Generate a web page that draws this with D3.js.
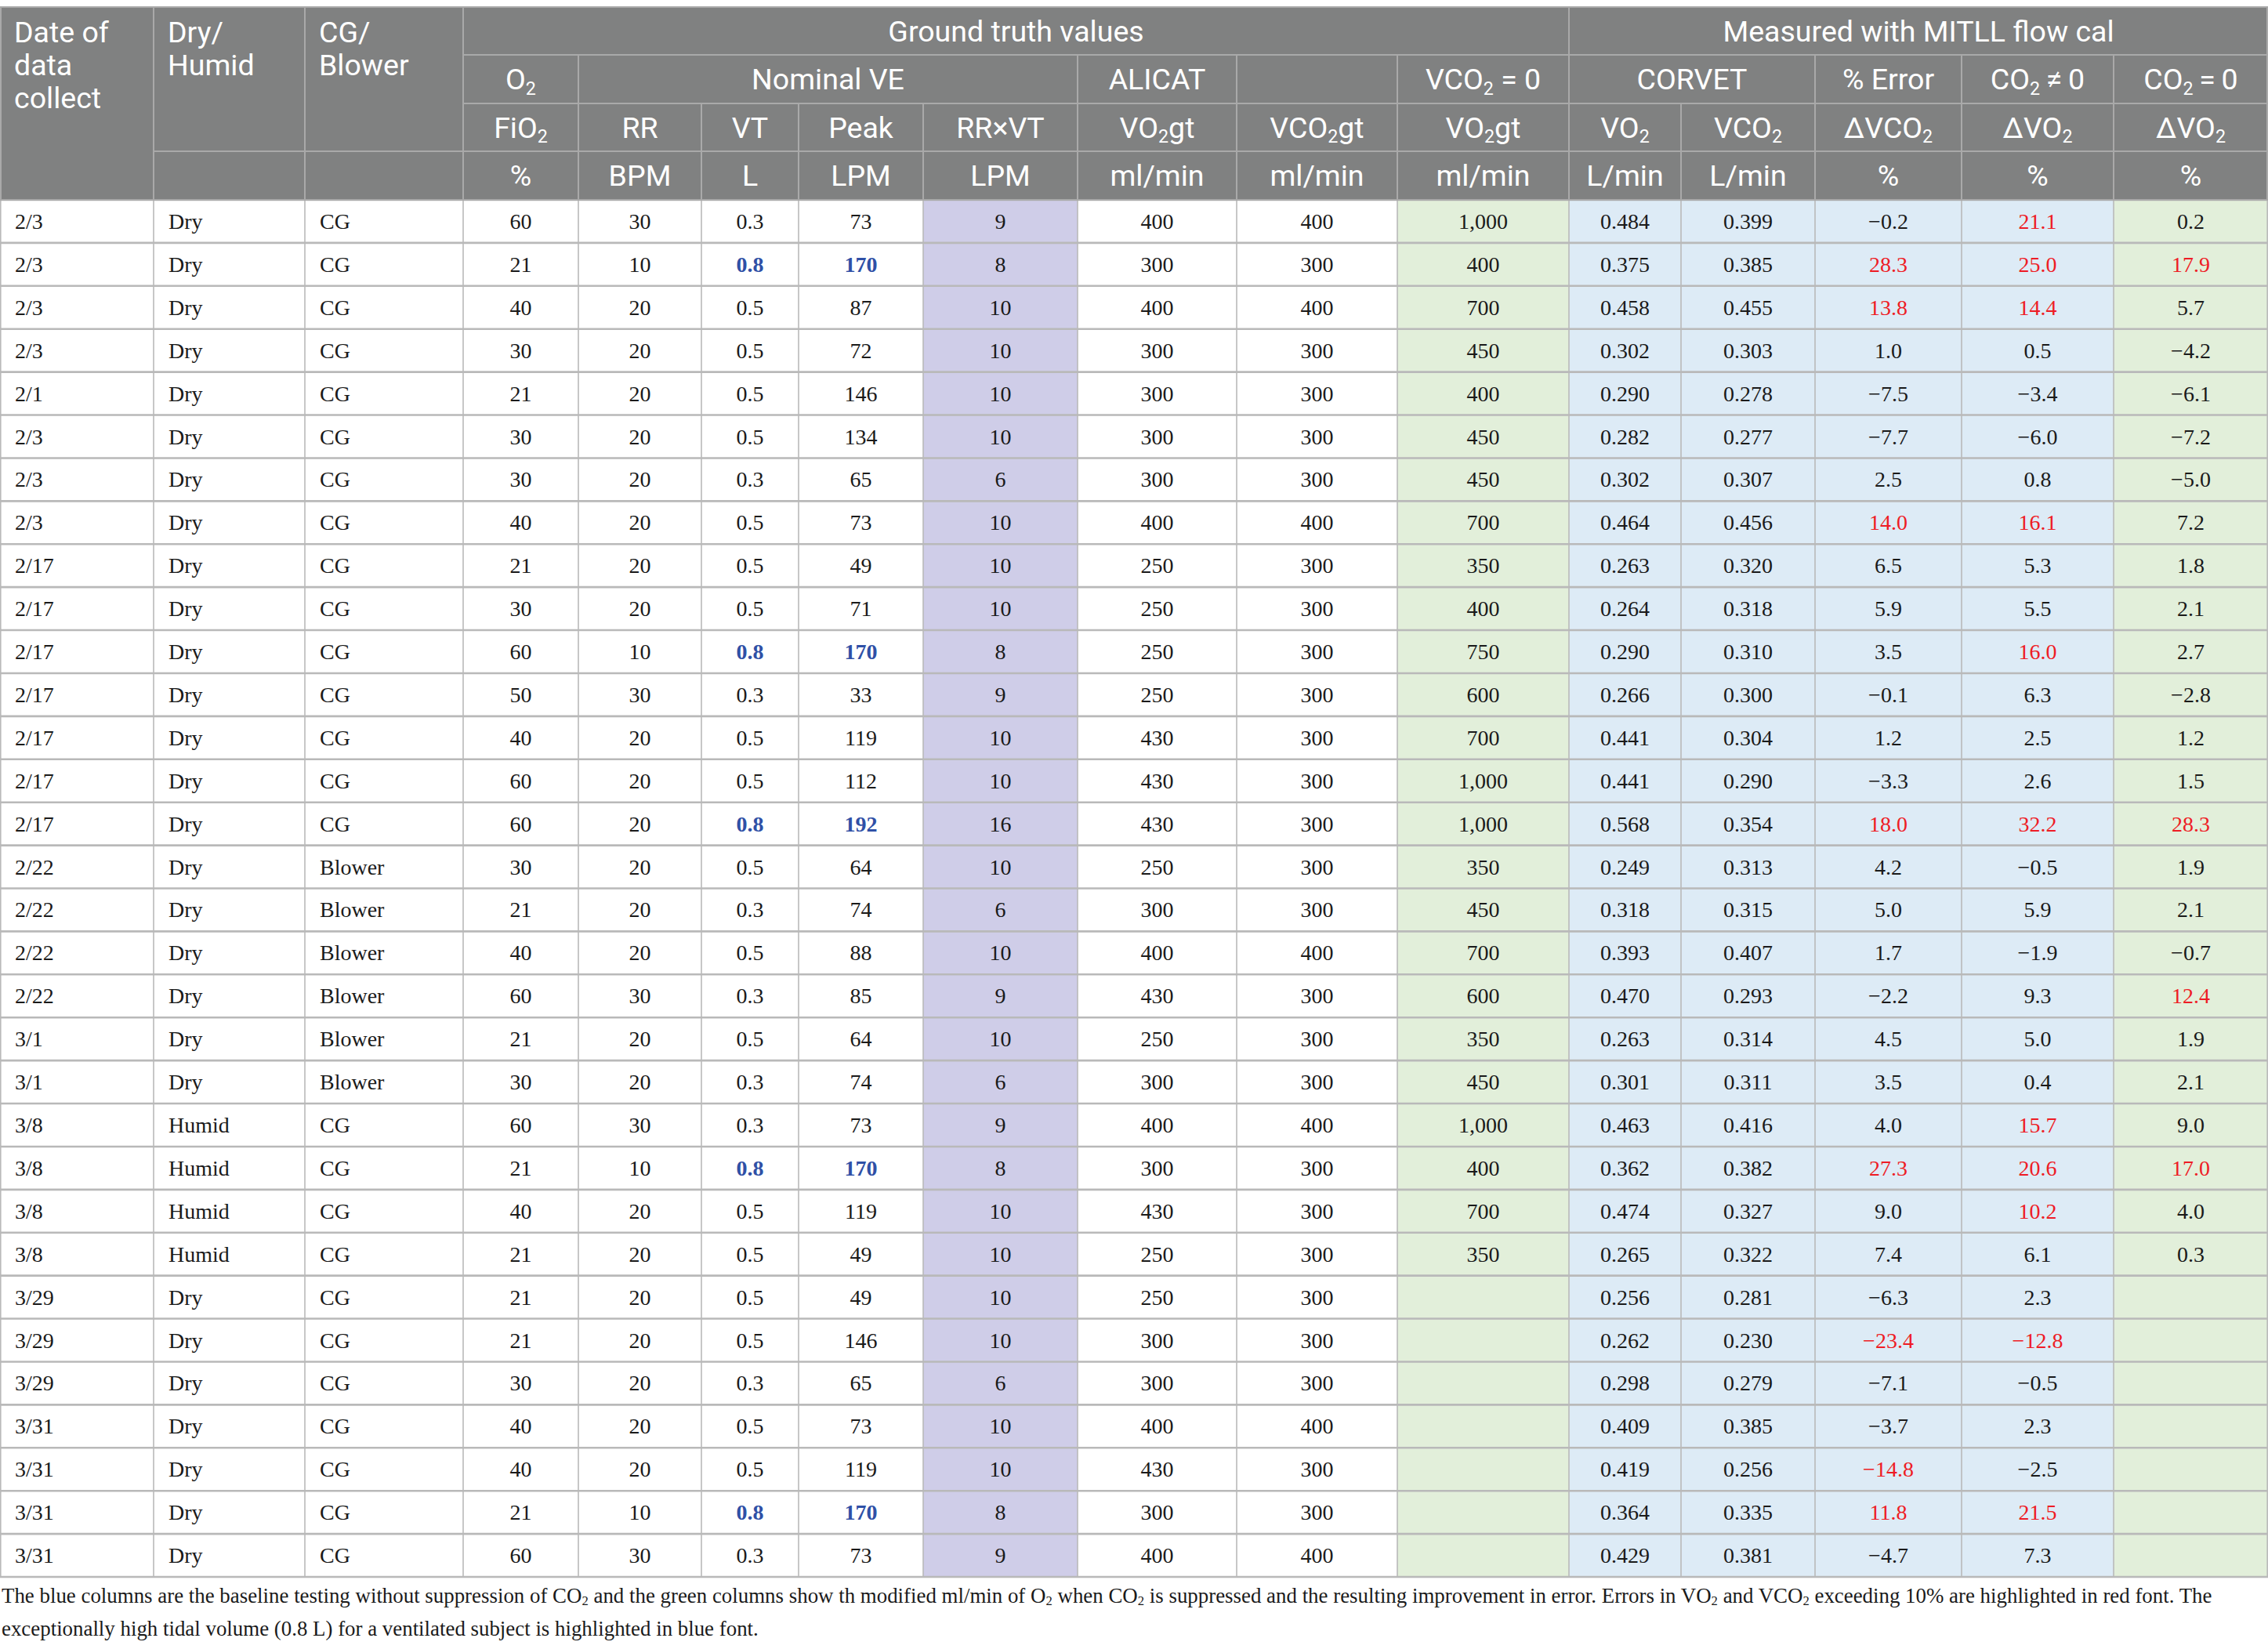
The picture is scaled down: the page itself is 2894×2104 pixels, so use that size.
<!DOCTYPE html>
<html><head><meta charset="utf-8">
<script src="https://cdn.jsdelivr.net/npm/d3@7"></script>
<style>html,body{margin:0;padding:0;background:#fff;} svg{display:block}</style>
</head><body><svg id="c" width="2894" height="2104"></svg>
<script>
// ---------------- DATA ----------------
const dates = ["2/3","2/3","2/3","2/3","2/1","2/3","2/3","2/3","2/17","2/17","2/17","2/17","2/17","2/17","2/17","2/22","2/22","2/22","2/22","3/1","3/1","3/8","3/8","3/8","3/8","3/29","3/29","3/29","3/31","3/31","3/31","3/31"];
const dryHumid = ["Dry","Dry","Dry","Dry","Dry","Dry","Dry","Dry","Dry","Dry","Dry","Dry","Dry","Dry","Dry","Dry","Dry","Dry","Dry","Dry","Dry","Humid","Humid","Humid","Humid","Dry","Dry","Dry","Dry","Dry","Dry","Dry"];
const cgBlower = ["CG","CG","CG","CG","CG","CG","CG","CG","CG","CG","CG","CG","CG","CG","CG","Blower","Blower","Blower","Blower","Blower","Blower","CG","CG","CG","CG","CG","CG","CG","CG","CG","CG","CG"];
const fio2 = [60,21,40,30,21,30,30,40,21,30,60,50,40,60,60,30,21,40,60,21,30,60,21,40,21,21,21,30,40,40,21,60];
const rr = [30,10,20,20,20,20,20,20,20,20,10,30,20,20,20,20,20,20,30,20,20,30,10,20,20,20,20,20,20,20,10,30];
const vt = [0.3,0.8,0.5,0.5,0.5,0.5,0.3,0.5,0.5,0.5,0.8,0.3,0.5,0.5,0.8,0.5,0.3,0.5,0.3,0.5,0.3,0.3,0.8,0.5,0.5,0.5,0.5,0.3,0.5,0.5,0.8,0.3];
const peak = [73,170,87,72,146,134,65,73,49,71,170,33,119,112,192,64,74,88,85,64,74,73,170,119,49,49,146,65,73,119,170,73];
const rrTimesVt = [9,8,10,10,10,10,6,10,10,10,8,9,10,10,16,10,6,10,9,10,6,9,8,10,10,10,10,6,10,10,8,9];
const alicatVO2gt = [400,300,400,300,300,300,300,400,250,250,250,250,430,430,430,250,300,400,430,250,300,400,300,430,250,250,300,300,400,430,300,400];
const vco2gt = [400,300,400,300,300,300,300,400,300,300,300,300,300,300,300,300,300,400,300,300,300,400,300,300,300,300,300,300,400,300,300,400];
const vo2gtZero = [1000,400,700,450,400,450,450,700,350,400,750,600,700,1000,1000,350,450,700,600,350,450,1000,400,700,350,null,null,null,null,null,null,null];
const corvetVO2 = [0.484,0.375,0.458,0.302,0.290,0.282,0.302,0.464,0.263,0.264,0.290,0.266,0.441,0.441,0.568,0.249,0.318,0.393,0.470,0.263,0.301,0.463,0.362,0.474,0.265,0.256,0.262,0.298,0.409,0.419,0.364,0.429];
const corvetVCO2 = [0.399,0.385,0.455,0.303,0.278,0.277,0.307,0.456,0.320,0.318,0.310,0.300,0.304,0.290,0.354,0.313,0.315,0.407,0.293,0.314,0.311,0.416,0.382,0.327,0.322,0.281,0.230,0.279,0.385,0.256,0.335,0.381];
const errVCO2 = [-0.2,28.3,13.8,1.0,-7.5,-7.7,2.5,14.0,6.5,5.9,3.5,-0.1,1.2,-3.3,18.0,4.2,5.0,1.7,-2.2,4.5,3.5,4.0,27.3,9.0,7.4,-6.3,-23.4,-7.1,-3.7,-14.8,11.8,-4.7];
const dVO2co2 = [21.1,25.0,14.4,0.5,-3.4,-6.0,0.8,16.1,5.3,5.5,16.0,6.3,2.5,2.6,32.2,-0.5,5.9,-1.9,9.3,5.0,0.4,15.7,20.6,10.2,6.1,2.3,-12.8,-0.5,2.3,-2.5,21.5,7.3];
const dVO2zero = [0.2,17.9,5.7,-4.2,-6.1,-7.2,-5.0,7.2,1.8,2.1,2.7,-2.8,1.2,1.5,28.3,1.9,2.1,-0.7,12.4,1.9,2.1,9.0,17.0,4.0,0.3,null,null,null,null,null,null,null];

// header labels ({x} = subscript)
const groupLabels = ["Ground truth values","Measured with MITLL flow cal"];
const level2Labels = ["O{2}","Nominal VE","ALICAT","","VCO{2} = 0","CORVET","% Error","CO{2}\u2009\u2260\u20090","CO{2}\u2009=\u20090"];
const level3Labels = ["FiO{2}","RR","VT","Peak","RR\u00d7VT","VO{2}gt","VCO{2}gt","VO{2}gt","VO{2}","VCO{2}","\u0394VCO{2}","\u0394VO{2}","\u0394VO{2}"];
const unitLabels = ["%","BPM","L","LPM","LPM","ml/min","ml/min","ml/min","L/min","L/min","%","%","%"];
const footnoteLines = [
 "The blue columns are the baseline testing without suppression of CO{2} and the green columns show th modified ml/min of O{2} when CO{2} is suppressed and the resulting improvement in error. Errors in VO{2} and VCO{2} exceeding 10% are highlighted in red font. The",
 "exceptionally high tidal volume (0.8 L) for a ventilated subject is highlighted in blue font."
];

// ---------------- LAYOUT ----------------
const W = 2894, H = 2104;
const colEdges = [0,196,389,591,738,895,1019,1178,1375,1578,1783,2002,2145,2316,2503,2697,2894];
const hdrEdges = [9,70,132,193,255];
const tableBottom = 2012;
const C = {
  header:"#808181", hdrLine:"#a9a9a9", line:"#b9b9b9",
  purple:"#cfcde8", green:"#e2efda", blue:"#ddebf6",
  text:"#1a1a1a", red:"#ee1c25", vtBlue:"#2f50a6"
};
const HFONT = "Roboto, 'Open Sans', sans-serif";
const DFONT = "'Liberation Serif', 'DejaVu Serif', serif";
const HFS = 37.5, DFS = 28, FFS = 29;

const svg = d3.select("#c");
const nRows = dates.length;
const x = d3.scaleOrdinal().domain(d3.range(colEdges.length)).range(colEdges);
const hy = d3.scaleOrdinal().domain(d3.range(hdrEdges.length)).range(hdrEdges);
const y = d3.scaleBand().domain(d3.range(nRows)).range([hdrEdges[4], tableBottom]);

function rich(textSel, str, fs, shift){
  const parts = str.split(/(\{[^}]*\})/).filter(s => s.length);
  let sub = false;
  parts.forEach(p => {
    if (p[0] === "{") {
      textSel.append("tspan").attr("font-size", fs*0.62).attr("dy", fs*shift).text(p.slice(1,-1));
      sub = true;
    } else {
      const t = textSel.append("tspan").text(p);
      if (sub) { t.attr("dy", -fs*shift); sub = false; }
    }
  });
}

const f1 = d3.format(".1f"), f3 = d3.format(".3f"), fc = d3.format(",");
const red = v => v != null && Math.abs(v) > 10 ? C.red : C.text;
const vtHi = (i) => vt[i] > 0.5;
const columns = [
  {vals: dates, fmt: d=>d, align:"left"},
  {vals: dryHumid, fmt: d=>d, align:"left"},
  {vals: cgBlower, fmt: d=>d, align:"left"},
  {vals: fio2, fmt: d=>d},
  {vals: rr, fmt: d=>d},
  {vals: vt, fmt: f1, color:(v,i)=>vtHi(i)?C.vtBlue:C.text, bold:(v,i)=>vtHi(i)},
  {vals: peak, fmt: d=>d, color:(v,i)=>vtHi(i)?C.vtBlue:C.text, bold:(v,i)=>vtHi(i)},
  {vals: rrTimesVt, fmt: d=>d, fill:C.purple},
  {vals: alicatVO2gt, fmt: d=>d},
  {vals: vco2gt, fmt: d=>d},
  {vals: vo2gtZero, fmt: fc, fill:C.green},
  {vals: corvetVO2, fmt: f3, fill:C.blue},
  {vals: corvetVCO2, fmt: f3, fill:C.blue},
  {vals: errVCO2, fmt: f1, fill:C.blue, color:red},
  {vals: dVO2co2, fmt: f1, fill:C.blue, color:red},
  {vals: dVO2zero, fmt: f1, fill:C.green, color:red}
];

// ---------------- BODY CELLS ----------------
const body = svg.append("g");
columns.forEach((col, ci) => {
  const g = body.append("g");
  g.selectAll("rect").data(col.vals).join("rect")
    .attr("x", x(ci)).attr("width", x(ci+1)-x(ci))
    .attr("y", (d,i)=>y(i)).attr("height", y.bandwidth())
    .attr("fill", col.fill || "#fff");
});
// grid lines
const gl = body.append("g");
gl.selectAll("line.h").data(d3.range(nRows+1)).join("line")
  .attr("x1",0).attr("x2",W)
  .attr("y1", i => i<nRows ? y(i) : tableBottom).attr("y2", i => i<nRows ? y(i) : tableBottom)
  .attr("stroke", C.line).attr("stroke-width", 2.6);
gl.selectAll("line.v").data(d3.range(colEdges.length)).join("line")
  .attr("x1", i=>Math.min(Math.max(x(i),0.8),W-0.8)).attr("x2", i=>Math.min(Math.max(x(i),0.8),W-0.8))
  .attr("y1", hdrEdges[4]).attr("y2", tableBottom)
  .attr("stroke", C.line).attr("stroke-width", 1.6);
// texts
columns.forEach((col, ci) => {
  const g = body.append("g").attr("font-family", DFONT).attr("font-size", DFS);
  g.selectAll("text").data(col.vals.map((v,i)=>({v,i})).filter(d=>d.v!=null)).join("text")
    .attr("x", col.align==="left" ? x(ci)+19 : (x(ci)+x(ci+1))/2)
    .attr("text-anchor", col.align==="left" ? "start" : "middle")
    .attr("y", d => y(d.i) + y.bandwidth()/2 + DFS*0.34)
    .attr("fill", d => col.color ? col.color(d.v,d.i) : C.text)
    .attr("font-weight", d => col.bold && col.bold(d.v,d.i) ? "bold" : "normal")
    .text(d => col.fmt(d.v));
});

// ---------------- HEADER ----------------
const hdrCells = [];
hdrCells.push({c0:0,c1:1,r0:0,r1:4,lines:["Date of","data","collect"],align:"left"});
hdrCells.push({c0:1,c1:2,r0:0,r1:3,lines:["Dry/","Humid"],align:"left"});
hdrCells.push({c0:2,c1:3,r0:0,r1:3,lines:["CG/","Blower"],align:"left"});
hdrCells.push({c0:1,c1:2,r0:3,r1:4,lines:[""]});
hdrCells.push({c0:2,c1:3,r0:3,r1:4,lines:[""]});
hdrCells.push({c0:3,c1:11,r0:0,r1:1,lines:[groupLabels[0]]});
hdrCells.push({c0:11,c1:16,r0:0,r1:1,lines:[groupLabels[1]]});
const l2Spans = [[3,4],[4,8],[8,9],[9,10],[10,11],[11,13],[13,14],[14,15],[15,16]];
l2Spans.forEach((s,k)=>hdrCells.push({c0:s[0],c1:s[1],r0:1,r1:2,lines:[level2Labels[k]]}));
level3Labels.forEach((t,k)=>hdrCells.push({c0:3+k,c1:4+k,r0:2,r1:3,lines:[t]}));
unitLabels.forEach((t,k)=>hdrCells.push({c0:3+k,c1:4+k,r0:3,r1:4,lines:[t]}));

const hg = svg.append("g");
hg.append("rect").attr("x",0).attr("y",hy(0)).attr("width",W).attr("height",hy(4)-hy(0)).attr("fill",C.header);
hg.selectAll("rect.cell").data(hdrCells).join("rect").attr("class","cell")
  .attr("x", d=>Math.max(x(d.c0),1)).attr("y", d=>hy(d.r0))
  .attr("width", d=>Math.min(x(d.c1),W-1)-Math.max(x(d.c0),1)).attr("height", d=>hy(d.r1)-hy(d.r0))
  .attr("fill", C.header).attr("stroke", C.hdrLine).attr("stroke-width", 2);
hdrCells.forEach(d => {
  d.lines.forEach((ln, li) => {
    if (!ln) return;
    const t = hg.append("text").attr("font-family", HFONT).attr("font-size", HFS).attr("fill", "#fff");
    if (d.align === "left") {
      t.attr("x", x(d.c0)+18).attr("y", hy(0) + 45 + li*42).attr("text-anchor","start");
    } else {
      t.attr("x", (x(d.c0)+x(d.c1))/2).attr("text-anchor","middle")
       .attr("y", (hy(d.r0)+hy(d.r1))/2 + 13);
    }
    rich(t, ln, HFS, 0.18);
  });
});

// ---------------- FOOTNOTE ----------------
const fg = svg.append("g").attr("font-family", DFONT).attr("fill", C.text);
const target = 2822;
function drawFootnote(fs){
  fg.selectAll("text").remove();
  return footnoteLines.map((ln, i) => {
    const t = fg.append("text").attr("x", 2).attr("y", 2045 + i*42).attr("font-size", fs);
    rich(t, ln, fs, 0.12);
    return t;
  });
}
let fn = drawFootnote(FFS);
const bw = fn[0].node().getBBox().width;
let ffs = FFS * target / bw;
fn = drawFootnote(ffs);
</script></body></html>
